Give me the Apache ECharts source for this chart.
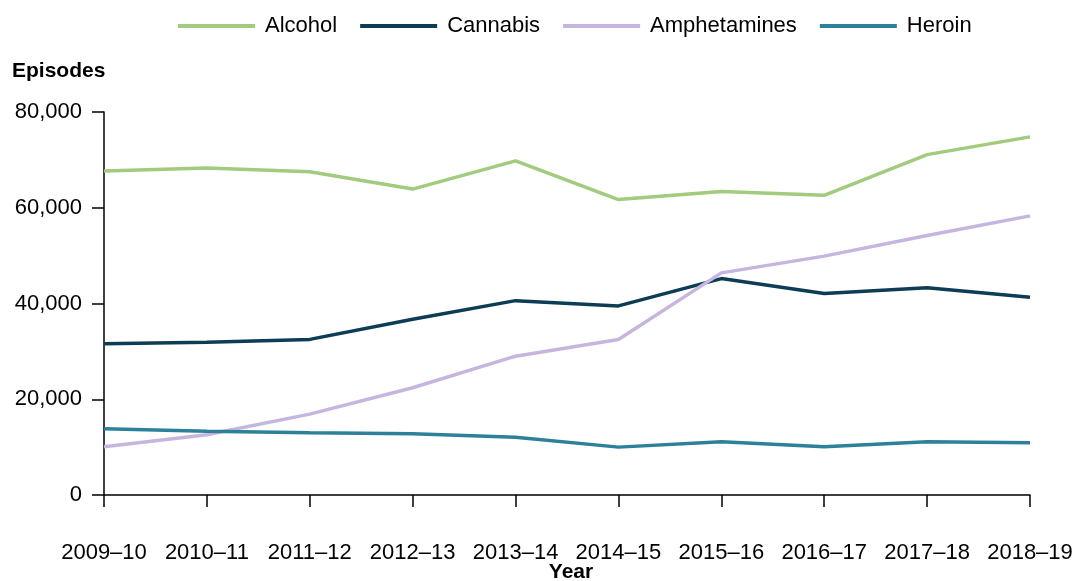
<!DOCTYPE html>
<html>
<head>
<meta charset="utf-8">
<script src="https://cdn.jsdelivr.net/npm/echarts@6/dist/echarts.min.js"></script>
<style>
html,body{margin:0;padding:0;background:#fff;}
#chart{width:1078px;height:581px;}
</style>
</head>
<body>
<div id="chart"></div>
<script>
const categories = ['2009–10','2010–11','2011–12','2012–13','2013–14','2014–15','2015–16','2016–17','2017–18','2018–19'];
const alcohol = [67700, 68300, 67500, 63900, 69800, 61700, 63400, 62600, 71100, 74800];
const cannabis = [31600, 31900, 32500, 36700, 40600, 39500, 45200, 42100, 43300, 41300];
const amphetamines = [10100, 12600, 16900, 22400, 29000, 32500, 46400, 49900, 54200, 58300];
const heroin = [13850, 13300, 13000, 12800, 12050, 10000, 11100, 10100, 11100, 10900];
const yTicks = [0, 20000, 40000, 60000, 80000];

const font = 'Liberation Sans, Arial, sans-serif';
const chart = echarts.init(document.getElementById('chart'), null, {renderer: 'canvas'});
function line(name, data, color) {
  return {
    name, type: 'line', data, symbol: 'none', smooth: false,
    lineStyle: {color, width: 3.5}, itemStyle: {color}
  };
}
chart.setOption({
  animation: false,
  textStyle: {fontFamily: font},
  legend: {
    top: 10, left: 173,
    itemWidth: 77, itemHeight: 4, itemGap: 23,
    icon: 'rect',
    textStyle: {fontSize: 22, color: '#000', fontFamily: font, padding: [0,0,0,5]},
    data: ['Alcohol','Cannabis','Amphetamines','Heroin']
  },
  graphic: [
    {type: 'text', left: 12, top: 61, style: {text: 'Episodes', font: 'bold 21px ' + font, fill: '#000'}},
    {type: 'text', x: 571, y: 572, style: {text: 'Year', font: 'bold 21px ' + font, fill: '#000', align: 'center', verticalAlign: 'middle'}}
  ],
  grid: {left: 104, right: 48, top: 112, bottom: 86, containLabel: false, outerBoundsMode: 'none'},
  xAxis: {
    type: 'category', data: categories, boundaryGap: false,
    axisLine: {lineStyle: {color: '#000', width: 1.5}},
    axisTick: {show: true, length: 12, lineStyle: {color: '#000', width: 1.5}},
    axisLabel: {fontSize: 22, color: '#000', margin: 47, fontFamily: font, interval: 0}
  },
  yAxis: {
    type: 'value', min: 0, max: 80000, interval: 20000,
    axisLine: {show: true, lineStyle: {color: '#000', width: 1.5}},
    axisTick: {show: true, length: 12, lineStyle: {color: '#000', width: 1.5}},
    splitLine: {show: false},
    axisLabel: {fontSize: 22, color: '#000', margin: 22, fontFamily: font,
      formatter: v => yTicks.includes(v) ? v.toLocaleString('en-US') : ''}
  },
  series: [
    line('Alcohol', alcohol, '#a2cb7d'),
    line('Cannabis', cannabis, '#0c3d55'),
    line('Amphetamines', amphetamines, '#c6b6df'),
    line('Heroin', heroin, '#2d8099')
  ]
});
</script>
</body>
</html>
